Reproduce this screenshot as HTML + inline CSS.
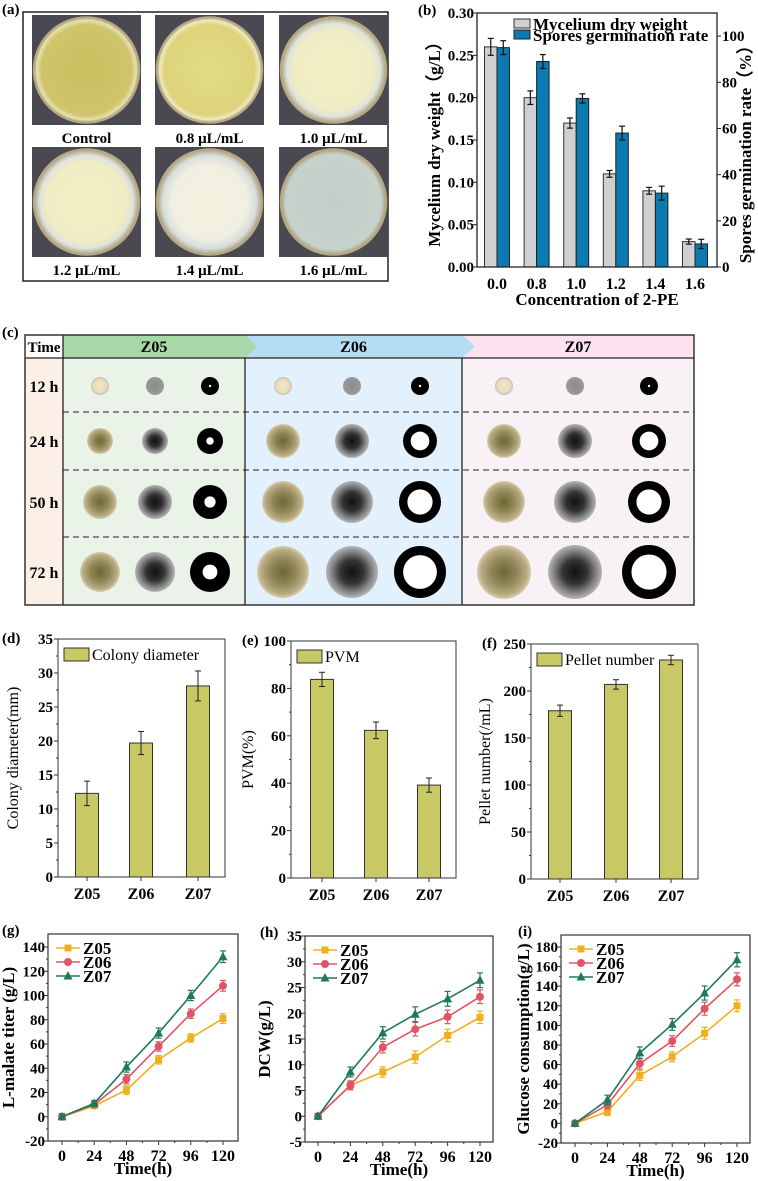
<!DOCTYPE html>
<html><head><meta charset="utf-8">
<style>
html,body{margin:0;padding:0;background:#fff;}
svg{display:block;}
text{font-family:"Liberation Serif",serif;}
</style></head>
<body>
<svg id="fig" width="758" height="1181" viewBox="0 0 758 1181" xmlns="http://www.w3.org/2000/svg">
<defs>
<radialGradient id="plateY" cx="50%" cy="50%" r="50%"><stop offset="0%" stop-color="#c9c060"/><stop offset="85%" stop-color="#cfc46a"/><stop offset="94%" stop-color="#e7e0b0"/><stop offset="100%" stop-color="#9a8e6a"/></radialGradient>
<radialGradient id="plateY2" cx="50%" cy="50%" r="50%"><stop offset="0%" stop-color="#e3dd88"/><stop offset="85%" stop-color="#ddd37a"/><stop offset="94%" stop-color="#efe9c0"/><stop offset="100%" stop-color="#9a8e6a"/></radialGradient>
<radialGradient id="plateP" cx="50%" cy="50%" r="50%"><stop offset="0%" stop-color="#f2efc4"/><stop offset="75%" stop-color="#f0ecc4"/><stop offset="88%" stop-color="#dfe3dc"/><stop offset="100%" stop-color="#a89c78"/></radialGradient>
<radialGradient id="plateW" cx="50%" cy="50%" r="50%"><stop offset="0%" stop-color="#f3f1dc"/><stop offset="70%" stop-color="#f1efe2"/><stop offset="88%" stop-color="#d8dedc"/><stop offset="100%" stop-color="#a89c78"/></radialGradient>
<radialGradient id="plateC" cx="50%" cy="50%" r="50%"><stop offset="0%" stop-color="#c4cec8"/><stop offset="90%" stop-color="#c8d2cc"/><stop offset="100%" stop-color="#a89c78"/></radialGradient>
<radialGradient id="colY" cx="50%" cy="50%" r="50%"><stop offset="0%" stop-color="#6b6a30"/><stop offset="45%" stop-color="#8d8456"/><stop offset="85%" stop-color="#b9ab82"/><stop offset="100%" stop-color="#d8ceb0"/></radialGradient>
<radialGradient id="colY0" cx="50%" cy="50%" r="50%"><stop offset="0%" stop-color="#f2e6c8"/><stop offset="70%" stop-color="#e8dcc0"/><stop offset="100%" stop-color="#c9c2b4"/></radialGradient>
<radialGradient id="colG" cx="50%" cy="50%" r="50%"><stop offset="0%" stop-color="#111"/><stop offset="45%" stop-color="#333"/><stop offset="80%" stop-color="#888"/><stop offset="100%" stop-color="#b5b5b5"/></radialGradient>
<radialGradient id="colG0" cx="50%" cy="50%" r="50%"><stop offset="0%" stop-color="#8a8a8a"/><stop offset="100%" stop-color="#9a9a9a"/></radialGradient>
</defs>
<g id="layer"></g>
</svg>
<script>
// ---------- data ----------
// panel b
const bCats = ["0.0","0.8","1.0","1.2","1.4","1.6"];
const bDry = [0.26,0.20,0.17,0.11,0.09,0.03];
const bDryErr = [0.010,0.008,0.006,0.004,0.004,0.003];
const bGerm = [95,89,73,58,32,10];
const bGermErr = [3,3,2,3,3,2];
const bLeftTicks = ["0.00","0.05","0.10","0.15","0.20","0.25","0.30"];
const bRightTicks = [0,20,40,60,80,100];
// panels d e f
const barCats = ["Z05","Z06","Z07"];
const dVals = [12.3,19.7,28.1];
const dErr = [1.8,1.7,2.2];
const dTicks = [0,5,10,15,20,25,30,35];
const eVals = [83.8,62.3,39.2];
const eErr = [3,3.5,3];
const eTicks = [0,20,40,60,80,100];
const fVals = [179,207,233];
const fErr = [6,5,5];
const fTicks = [0,50,100,150,200,250];
// panels g h i
const timePts = [0,24,48,72,96,120];
const gZ05 = [0,9,22,47,65,81];
const gZ06 = [0,10,31,58,85,108];
const gZ07 = [0,11,41,69,100,132];
const gErr = [2,2,3.5,3.5,3.5,4];
const gTicks = [-20,0,20,40,60,80,100,120,140];
const hZ05 = [0,6,8.6,11.5,15.7,19.2];
const hZ06 = [0,6,13.4,16.9,19.3,23.2];
const hZ07 = [0,8.6,16.2,19.8,22.8,26.4];
const hErr = [0.4,0.8,1,1.2,1.2,1.2];
const hTicks = [-5,0,5,10,15,20,25,30,35];
const iZ05 = [0,12,49,68,92,120];
const iZ06 = [0,19,61,84,117,147];
const iZ07 = [0,24,72,101,133,167];
const iErr = [2,4,5,5,6,6];
const iTicks = [-20,0,20,40,60,80,100,120,140,160,180];
// panel c
const cStrains = ["Z05","Z06","Z07"];
const cTimes = ["12 h","24 h","50 h","72 h"];
const cRadius = {Z05:[9,13,17,20], Z06:[9,17,21,26], Z07:[9,17,21,27]};

// ---------- helpers ----------
const NS="http://www.w3.org/2000/svg";
const root=document.getElementById('layer');
function mk(tag,attrs,parent){const e=document.createElementNS(NS,tag);for(const k in attrs)e.setAttribute(k,attrs[k]);(parent||root).appendChild(e);return e;}
function txt(x,y,s,size,opts,parent){opts=opts||{};const e=mk('text',{x:x,y:y,'font-size':size,'font-weight':opts.w||'bold','text-anchor':opts.a||'middle',fill:opts.fill||'#000'},parent);if(opts.rot)e.setAttribute('transform','rotate('+opts.rot+' '+x+' '+y+')');e.textContent=s;return e;}
function lin(d0,d1,r0,r1){return v=>r0+(v-d0)*(r1-r0)/(d1-d0);}

// ---------- panel a ----------
const ga=mk('g',{});


txt(2,14,"(a)",15,{a:'start'},ga);
mk('rect',{x:23,y:12,width:365,height:269,fill:'#fff',stroke:'#222','stroke-width':1.5},ga);
const plates=[{x:32,y:15,g:'plateY',l:'Control'},{x:155,y:15,g:'plateY2',l:'0.8 μL/mL'},{x:279,y:15,g:'plateP',l:'1.0 μL/mL'},
{x:32,y:147,g:'plateP',l:'1.2 μL/mL'},{x:155,y:147,g:'plateW',l:'1.4 μL/mL'},{x:279,y:147,g:'plateC',l:'1.6 μL/mL'}];
plates.forEach(p=>{
 const pg=mk('g',{},ga);
 
 
 mk('rect',{x:p.x,y:p.y,width:109,height:110,fill:'#4a4850'},pg);
 mk('circle',{cx:p.x+54.5,cy:p.y+55,r:53,fill:'url(#'+p.g+')',stroke:'#b8a880','stroke-width':1.5},pg);
 const t=txt(p.x+54.5,p.y+128,p.l,15,{},pg);
 
 
});

// ---------- panel b ----------
(function(){
 const g=mk('g',{});
 
 
 const L=477,R=717,T=13,B=267;
 const y=lin(0,0.30,B,T), y2=lin(0,110,B,T);
 const x=i=>497+i*39.6;
 txt(418,15,"(b)",15,{a:'start'},g);
 bCats.forEach((c,i)=>{
  const bw=12.5;
  const r1=mk('rect',{x:x(i)-bw,y:y(bDry[i]),width:bw,height:B-y(bDry[i]),fill:'#d0d0d0',stroke:'#333','stroke-width':1},g);
  
  
  const r2=mk('rect',{x:x(i),y:y2(bGerm[i]),width:bw,height:B-y2(bGerm[i]),fill:'#0a7ab0',stroke:'#222','stroke-width':1},g);
  
  
  [[x(i)-bw/2,y(bDry[i]+bDryErr[i]),y(bDry[i]-bDryErr[i])],[x(i)+bw/2,y2(bGerm[i]+bGermErr[i]),y2(bGerm[i]-bGermErr[i])]].forEach(e=>{
   mk('line',{x1:e[0],x2:e[0],y1:e[1],y2:e[2],stroke:'#111','stroke-width':1.2},g);
   mk('line',{x1:e[0]-3,x2:e[0]+3,y1:e[1],y2:e[1],stroke:'#111','stroke-width':1.2},g);
   mk('line',{x1:e[0]-3,x2:e[0]+3,y1:e[2],y2:e[2],stroke:'#111','stroke-width':1.2},g);
  });
  txt(x(i),289,c,16,{},g);
 });
 mk('rect',{x:L,y:T,width:R-L,height:B-T,fill:'none',stroke:'#222','stroke-width':1.3},g);
 bLeftTicks.forEach(t=>{const v=+t;mk('line',{x1:L-4,x2:L,y1:y(v),y2:y(v),stroke:'#222'},g);txt(L-3,y(v)+5,t,15,{a:'end'},g);});
 bRightTicks.forEach(v=>{mk('line',{x1:R,x2:R+4,y1:y2(v),y2:y2(v),stroke:'#222'},g);txt(R+5,y2(v)+5,String(v),15,{a:'start'},g);});
 txt(440,140,"Mycelium dry weight（g/L）",17,{rot:-90},g);
 txt(751,150,"Spores germination rate（%）",17,{rot:-90},g);
 txt(597,305,"Concentration of 2-PE",17,{},g);
 const lg=mk('g',{},g);
 
 
 mk('rect',{x:514,y:19,width:16,height:9,fill:'#d0d0d0',stroke:'#333'},lg);
 txt(533,30,"Mycelium dry weight",17,{a:'start'},lg);
 mk('rect',{x:514,y:30,width:16,height:9,fill:'#0a7ab0',stroke:'#222'},lg);
 txt(533,41,"Spores germination rate",17,{a:'start'},lg);
})();

// ---------- panel c ----------
(function(){
 const g=mk('g',{});
 
 
 txt(2,337,"(c)",15,{a:'start'},g);
 const T=335,H=358,B=605;
 const cols=[{s:'Z05',x0:63,x1:245,bg:'#eaf3e8',hd:'#a8d8a8',cx:[100,155,210]},
  {s:'Z06',x0:245,x1:462,bg:'#e2f1fb',hd:'#b4dcf2',cx:[283,352,420]},
  {s:'Z07',x0:462,x1:694,bg:'#f8f1f6',hd:'#fbe2ee',cx:[504,575,649]}];
 mk('rect',{x:25,y:H,width:38,height:B-H,fill:'#fcefe6'},g);
 cols.forEach(c=>mk('rect',{x:c.x0,y:H,width:c.x1-c.x0,height:B-H,fill:c.bg},g));
 mk('polygon',{points:'462,335 694,335 694,358 462,358',fill:'#fbe2ee'},g);
 mk('polygon',{points:'245,335 462,335 475,346.5 462,358 245,358',fill:'#b4dcf2'},g);
 mk('polygon',{points:'63,335 245,335 257,346.5 245,358 63,358',fill:'#a8d8a8'},g);
 txt(44,352,"Time",15,{},g);
 cols.forEach(c=>{const h=txt((c.x0+c.x1)/2,352,c.s,16,{},g);});
 const rowsY=[386,441,502,572];
 cTimes.forEach((t,i)=>txt(44,rowsY[i]+6,t,16,{},g));
 [412,470,537].forEach(yy=>mk('line',{x1:63,x2:694,y1:yy,y2:yy,stroke:'#222','stroke-dasharray':'6,4','stroke-width':1},g));
 cols.forEach(c=>{
  cTimes.forEach((t,i)=>{
   const r=cRadius[c.s][i];
   const a=mk('circle',{cx:c.cx[0],cy:rowsY[i],r:r,fill:i===0?'url(#colY0)':'url(#colY)'},g);
   
   
   const b=mk('circle',{cx:c.cx[1],cy:rowsY[i],r:r,fill:i===0?'url(#colG0)':'url(#colG)'},g);
   
   
   const k=mk('circle',{cx:c.cx[2],cy:rowsY[i],r:r,fill:'#000'},g);
   
   
   const hole=i===0?1.2:r*(c.s==='Z05'?0.25+i*0.04:0.5+i*0.05);
   mk('circle',{cx:c.cx[2],cy:rowsY[i],r:hole,fill:'#fff'},g);
  });
 });
 mk('line',{x1:25,x2:694,y1:H,y2:H,stroke:'#222','stroke-width':1.3},g);
 [63,245,462].forEach(xx=>mk('line',{x1:xx,x2:xx,y1:xx===63?T:H,y2:B,stroke:'#222','stroke-width':1.3},g));
 mk('rect',{x:25,y:T,width:669,height:B-T,fill:'none',stroke:'#333','stroke-width':1.5},g);
})();

// ---------- panels d e f ----------
function barPanel(o){
 const g=mk('g',{});
 
 
 const y=lin(o.ticks[0],o.ticks[o.ticks.length-1],o.B,o.T);
 txt(o.lx,o.T+4,o.label,15,{a:'start'},g);
 o.vals.forEach((v,i)=>{
  const cx=o.cx[i];
  const r=mk('rect',{x:cx-11.5,y:y(v),width:23,height:o.B-y(v),fill:'#c8c864',stroke:'#333','stroke-width':1},g);
  
  
  const e1=y(v+o.err[i]),e2=y(v-o.err[i]);
  mk('line',{x1:cx,x2:cx,y1:e1,y2:e2,stroke:'#222'},g);
  mk('line',{x1:cx-3,x2:cx+3,y1:e1,y2:e1,stroke:'#222'},g);
  mk('line',{x1:cx-3,x2:cx+3,y1:e2,y2:e2,stroke:'#222'},g);
  txt(cx,o.B+22,barCats[i],16,{},g);
 });
 mk('rect',{x:o.L,y:o.T,width:o.R-o.L,height:o.B-o.T,fill:'none',stroke:'#333','stroke-width':1},g);
 o.ticks.forEach((t,i)=>{mk('line',{x1:o.L-4,x2:o.L,y1:y(t),y2:y(t),stroke:'#333'},g);txt(o.L-5,y(t)+5,String(t),15,{a:'end'},g);
  if(i<o.ticks.length-1){const m=(t+o.ticks[i+1])/2;mk('line',{x1:o.L-2,x2:o.L,y1:y(m),y2:y(m),stroke:'#333'},g);}});
 o.cx.forEach(cx=>mk('line',{x1:cx,x2:cx,y1:o.B,y2:o.B+4,stroke:'#333'},g));
 txt(o.yt,(o.T+o.B)/2,o.ytitle,16,{rot:-90,w:'normal'},g);
 mk('rect',{x:o.L+6,y:o.T+9,width:25,height:13,fill:'#c8c864',stroke:'#333'},g);
 txt(o.L+34,o.T+21,o.legend,16,{a:'start',w:'normal'},g);
}
barPanel({name:'panel-d-colony-diameter',label:'(d)',lx:2,L:58,R:225,T:639,B:877,cx:[87,141,198],vals:dVals,err:dErr,ticks:dTicks,yt:18,ytitle:'Colony diameter(mm)',legend:'Colony diameter'});
barPanel({name:'panel-e-pvm',label:'(e)',lx:242,L:291,R:456,T:641,B:878,cx:[322,376,429],vals:eVals,err:eErr,ticks:eTicks,yt:253,ytitle:'PVM(%)',legend:'PVM'});
barPanel({name:'panel-f-pellet-number',label:'(f)',lx:482,L:531,R:698,T:644,B:879,cx:[560,616,671],vals:fVals,err:fErr,ticks:fTicks,yt:490,ytitle:'Pellet number(/mL)',legend:'Pellet number'});

// ---------- panels g h i ----------
const seriesColors=['#f0b01e','#e05565','#1e7a5a'];
const seriesNames=['Z05','Z06','Z07'];
function marker(g,s,x,y){
 if(s===0) return mk('rect',{x:x-3.5,y:y-3.5,width:7,height:7,fill:seriesColors[0]},g);
 if(s===1) return mk('circle',{cx:x,cy:y,r:4,fill:seriesColors[1]},g);
 return mk('polygon',{points:(x)+','+(y-5)+' '+(x+4.5)+','+(y+3.5)+' '+(x-4.5)+','+(y+3.5),fill:seriesColors[2]},g);
}
function linePanel(o){
 const g=mk('g',{});
 
 
 const x=lin(0,120,o.x0,o.x120), y=lin(o.ticks[0],o.ticks[o.ticks.length-1],o.B,o.T);
 txt(o.lx,o.top+1,o.label,15,{a:'start'},g);
 o.series.forEach((d,s)=>{
  const sg=mk('g',{},g);
  
  
  mk('polyline',{points:d.map((v,i)=>x(timePts[i])+','+y(v)).join(' '),fill:'none',stroke:seriesColors[s],'stroke-width':1.6},sg);
  d.forEach((v,i)=>{
   const e=o.err[i]*(1+0.1*s);
   const X=x(timePts[i]);
   mk('line',{x1:X,x2:X,y1:y(v+e),y2:y(v-e),stroke:seriesColors[s],'stroke-width':1.2},sg);
   mk('line',{x1:X-3,x2:X+3,y1:y(v+e),y2:y(v+e),stroke:seriesColors[s],'stroke-width':1.2},sg);
   mk('line',{x1:X-3,x2:X+3,y1:y(v-e),y2:y(v-e),stroke:seriesColors[s],'stroke-width':1.2},sg);
   const m=marker(sg,s,X,y(v));
   
   
  });
 });
 mk('rect',{x:o.L,y:o.top,width:o.R-o.L,height:o.B-o.top,fill:'none',stroke:'#333','stroke-width':1.2},g);
 o.ticks.forEach((t,i)=>{mk('line',{x1:o.L-4,x2:o.L,y1:y(t),y2:y(t),stroke:'#333'},g);txt(o.L-3,y(t)+5,String(t),15,{a:'end'},g);
  if(i<o.ticks.length-1){const m=(t+o.ticks[i+1])/2;mk('line',{x1:o.L-2,x2:o.L,y1:y(m),y2:y(m),stroke:'#333'},g);}});
 timePts.forEach((t,i)=>{mk('line',{x1:x(t),x2:x(t),y1:o.B,y2:o.B+4,stroke:'#333'},g);txt(x(t),o.B+20,String(t),16,{},g);
  if(i<timePts.length-1){mk('line',{x1:x(t+12),x2:x(t+12),y1:o.B,y2:o.B+2,stroke:'#333'},g);}});
 txt((o.L+o.R)/2,o.B+33,'Time(h)',17,{},g);
 txt(o.yt,(o.top+o.B)/2,o.ytitle,17,{rot:-90},g);
 const lg=mk('g',{},g);
 
 
 seriesNames.forEach((n,s)=>{
  const ly=o.top+14+s*14;
  mk('line',{x1:o.L+8,x2:o.L+32,y1:ly,y2:ly,stroke:seriesColors[s],'stroke-width':1.6},lg);
  marker(lg,s,o.L+20,ly);
  txt(o.L+35,ly+6,n,17,{a:'start'},lg);
 });
}
linePanel({name:'panel-g-l-malate',label:'(g)',lx:2,L:48,R:238,top:934,T:947,B:1141,x0:62,x120:223,series:[gZ05,gZ06,gZ07],err:gErr,ticks:gTicks,yt:14,ytitle:'L-malate titer (g/L)'});
linePanel({name:'panel-h-dcw',label:'(h)',lx:260,L:305,R:493,top:936,T:936,B:1142,x0:318,x120:480,series:[hZ05,hZ06,hZ07],err:hErr,ticks:hTicks,yt:270,ytitle:'DCW(g/L)'});
linePanel({name:'panel-i-glucose',label:'(i)',lx:518,L:561,R:750,top:935,T:947,B:1143,x0:575,x120:737,series:[iZ05,iZ06,iZ07],err:iErr,ticks:iTicks,yt:529,ytitle:'Glucose consumption(g/L)'});
</script>
</body></html>
